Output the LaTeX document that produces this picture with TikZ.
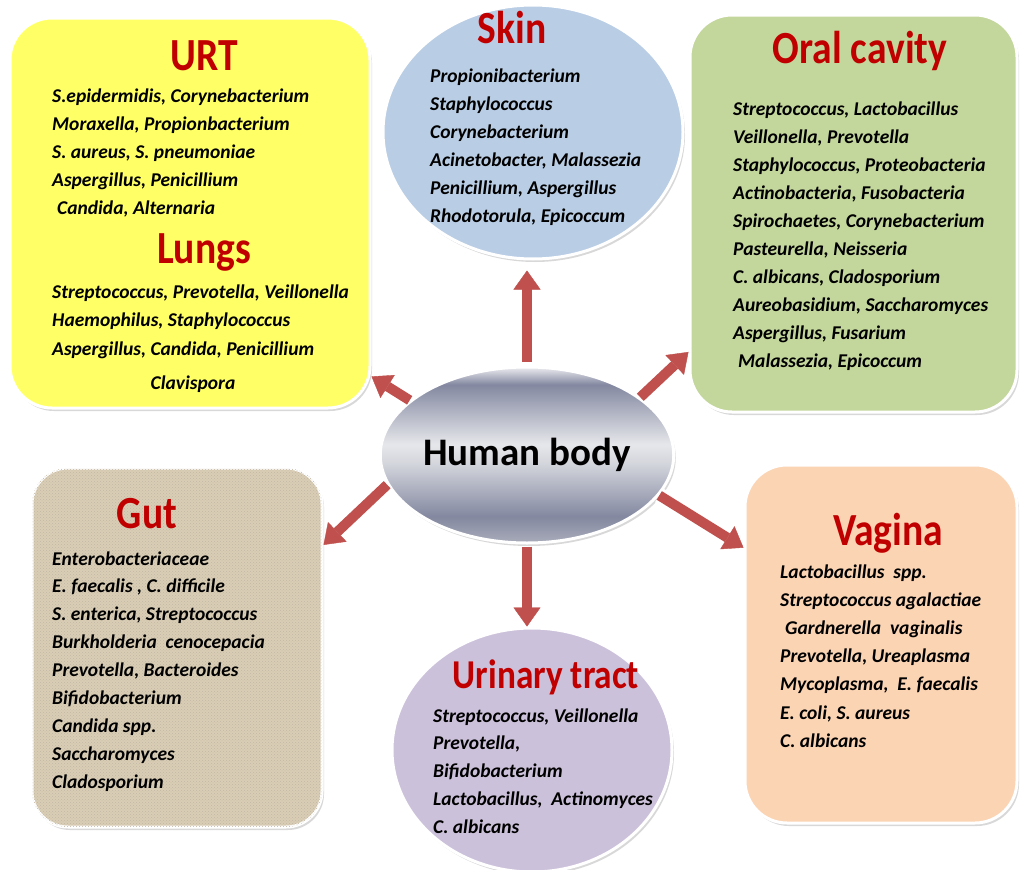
\documentclass[tikz,border=0pt]{standalone}
\usepackage{fontspec}
\setmainfont{Carlito}
\newfontfamily\titlefont[FakeStretch=0.86]{Carlito}
\usepackage{tikz}
\usetikzlibrary{arrows.meta, positioning, shapes.geometric, shadows, patterns}

\definecolor{urtyellow}{HTML}{FFFF66}
\definecolor{skinblue}{HTML}{B9CDE5}
\definecolor{oralgreen}{HTML}{C3D69B}
\definecolor{gutbeige}{HTML}{D9CDB5}
\definecolor{vagpeach}{HTML}{FBD4B4}
\definecolor{urilav}{HTML}{CCC1DA}
\definecolor{titlered}{HTML}{C00000}
\definecolor{arrowred}{HTML}{C0504D}
\definecolor{metaltop}{HTML}{EDEDF1}
\definecolor{metaldark}{HTML}{8388A0}
\definecolor{metallight}{HTML}{E6E7EB}
\definecolor{metalmid}{HTML}{D3D5DC}
\definecolor{metalbot}{HTML}{A9ACBA}

\pgfdeclareverticalshading{metal}{100bp}{color(0bp)=(metalbot); color(25bp)=(metalbot);
  color(32.5bp)=(metaldark); color(47.5bp)=(metalmid); color(53bp)=(metallight);
  color(70bp)=(metaldark); color(75bp)=(metaltop); color(100bp)=(metaltop)}

\begin{document}
\begin{tikzpicture}[
  x=1pt, y=-1pt,
  box/.style={draw=white, line width=3pt, rounded corners=42pt, inner sep=0pt,
              drop shadow={shadow xshift=2pt, shadow yshift=-3pt, opacity=0.3}},
  oval/.style={ellipse, draw=white, line width=3pt, inner sep=0pt,
              drop shadow={shadow xshift=2pt, shadow yshift=-3pt, opacity=0.3}},
  title/.style={text=titlered, font=\titlefont\bfseries\fontsize{46}{50}\selectfont,
              anchor=base, inner sep=0pt},
  item/.style={font=\bfseries\itshape\fontsize{19.5}{28}\selectfont,
              anchor=base west, inner sep=0pt},
  bigarrow/.style={draw=arrowred, line width=10pt,
              -{Triangle[width=27pt, length=19pt, line width=0.4pt]},
              preaction={draw=white, line width=16pt,
                -{Triangle[width=37pt, length=26pt, line width=0.4pt]}}}
]
\path[use as bounding box, fill=white] (0,0) rectangle (1021,870);

% boxes round the centre
\node[box, fill=urtyellow, minimum width=360, minimum height=390] (urtbox) at (190,213) {};
\node[oval, fill=skinblue, minimum width=300, minimum height=254] (skinoval) at (533,132) {};
\node[box, fill=oralgreen, minimum width=327, minimum height=397] (oralbox) at (853.5,213.5) {};
\node[box, fill=gutbeige, rounded corners=36pt, minimum width=290, minimum height=359,
      postaction={pattern=crosshatch dots, pattern color=gutbeige!90!black}] (gutbox) at (177,647.5) {};
\node[box, fill=vagpeach, minimum width=272, minimum height=358] (vagbox) at (881,644) {};
\node[oval, fill=urilav, minimum width=280, minimum height=244] (urioval) at (532,750) {};

\node[oval, shading=metal, minimum width=292, minimum height=176,
      font=\bfseries\fontsize{39}{44}\selectfont] (body) at (527,455) {Human body};

% titles
\node[title] (urttitle) at (204,70) {URT};
\node[title] (lungtitle) at (204,263) {Lungs};
\node[title] (skintitle) at (512,43) {Skin};
\node[title] (oraltitle) at (860,63) {Oral cavity};
\node[title] (guttitle) at (147,528) {Gut};
\node[title] (vagtitle) at (888,545) {Vagina};
\node[title, font=\titlefont\bfseries\fontsize{41}{46}\selectfont] (urititle) at (546,688) {Urinary tract};

% lists
\foreach \t [count=\i from 0] in {{S.epidermidis, Corynebacterium}, {Moraxella, Propionbacterium},
    {S. aureus, S. pneumoniae}, {Aspergillus, Penicillium}, {\hspace{5pt}Candida, Alternaria}}
  \node[item] (urt\i) at (52, 102+28*\i) {\t};
\foreach \t [count=\i from 0] in {{Streptococcus, Prevotella, Veillonella},
    {Haemophilus, Staphylococcus}, {Aspergillus, Candida, Penicillium}}
  \node[item] (lung\i) at (52, 298+28.5*\i) {\t};
\node[item, anchor=base] (lung3) at (193,389) {Clavispora};

\foreach \t [count=\i from 0] in {Propionibacterium, Staphylococcus, Corynebacterium,
    {Acinetobacter, Malassezia}, {Penicillium, Aspergillus}, {Rhodotorula, Epicoccum}}
  \node[item] (skin\i) at (430, 82+28*\i) {\t};

\foreach \t [count=\i from 0] in {{Streptococcus, Lactobacillus}, {Veillonella, Prevotella},
    {Staphylococcus, Proteobacteria}, {Actinobacteria, Fusobacteria},
    {Spirochaetes, Corynebacterium}, {Pasteurella, Neisseria}, {C. albicans, Cladosporium},
    {Aureobasidium, Saccharomyces}, {Aspergillus, Fusarium}, {\hspace{5pt}Malassezia, Epicoccum}}
  \node[item] (oral\i) at (733, 115+28*\i) {\t};

\foreach \t [count=\i from 0] in {Enterobacteriaceae, {E. faecalis , C. difficile},
    {S. enterica, Streptococcus}, {Burkholderia\ \ cenocepacia}, {Prevotella, Bacteroides},
    Bifidobacterium, {Candida spp.}, Saccharomyces, Cladosporium}
  \node[item] (gut\i) at (52, 565+27.9*\i) {\t};

\foreach \t [count=\i from 0] in {{Streptococcus, Veillonella}, {Prevotella,},
    Bifidobacterium, {Lactobacillus,\ \ Actinomyces}, {C. albicans}}
  \node[item] (uri\i) at (433, 722+27.8*\i) {\t};

\foreach \t [count=\i from 0] in {{Lactobacillus\ \ spp.}, {Streptococcus agalactiae},
    {\hspace{5pt}Gardnerella\ \ vaginalis}, {Prevotella, Ureaplasma}, {Mycoplasma,\ \ E. faecalis},
    {E. coli, S. aureus}, {C. albicans}}
  \node[item] (vag\i) at (780, 578+28.2*\i) {\t};

% arrows out of the centre
\draw[bigarrow, shorten <=4pt, shorten >=10pt] (body.north) -- (body.north |- skinoval.south);
\draw[bigarrow, shorten <=2pt] (body.south) -- (body.south |- urioval.north);
\draw[bigarrow] (body.155) -- (urtbox.-42);
\draw[bigarrow] (body.27) -- (oralbox.220);
\draw[bigarrow] (body.192) -- (gutbox.35);
\draw[bigarrow] (body.-17) -- (vagbox.145);

\end{tikzpicture}
\end{document}
